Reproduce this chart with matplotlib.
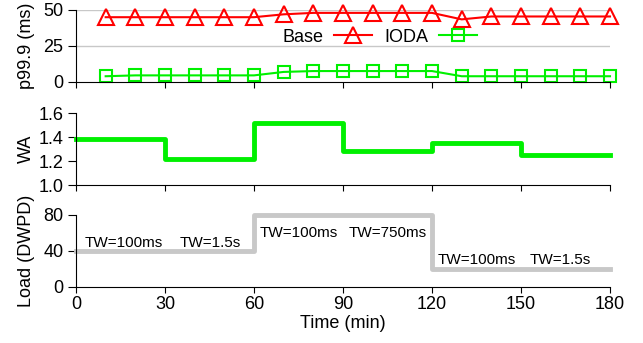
import matplotlib
matplotlib.use("Agg")
import matplotlib.pyplot as plt

plt.rcParams['font.family'] = ['Liberation Sans', 'DejaVu Sans']

# ── DATA ──────────────────────────────────────────────────────────────────────
t_pts   = [10, 20, 30, 40, 50, 60, 70, 80, 90, 100, 110, 120,
           130, 140, 150, 160, 170, 180]
base_p  = [45, 45, 45, 45, 45, 45, 47, 48, 48, 48, 48, 48,
           43.5, 45.5, 45.5, 45.5, 45.5, 45.5]
ioda_p  = [4, 4.6, 4.6, 4.6, 4.6, 4.6, 7, 7.6, 7.6, 7.6, 7.6, 7.6,
           4, 4, 4, 4, 4, 4]

wa_t    = [0, 30, 60, 90, 120, 150, 180]
wa_v    = [1.38, 1.22, 1.52, 1.28, 1.35, 1.25, 1.25]

load_t  = [0, 60, 120, 180]
load_v  = [40, 80, 20, 20]

tw_labels = ['TW=100ms', 'TW=1.5s', 'TW=100ms', 'TW=750ms', 'TW=100ms', 'TW=1.5s']
tw_x      = [3, 35, 62, 92, 122, 153]
tw_y      = [44.5, 44.5, 55.5, 55.5, 25, 25]

RED   = '#ff0000'
GREEN = '#00f000'
GRAY  = '#c8c8c8'
FS    = 13

# ── LAYOUT ────────────────────────────────────────────────────────────────────
fig = plt.figure(figsize=(6.43, 3.43), dpi=100)
L, W = 76 / 643, 534 / 643
ax1 = fig.add_axes([L, 1 - 82 / 343, W, 72 / 343])
ax2 = fig.add_axes([L, 1 - 185 / 343, W, 72 / 343])
ax3 = fig.add_axes([L, 1 - 286.5 / 343, W, 71.5 / 343])

for ax in (ax1, ax2, ax3):
    ax.set_xlim(0, 180)
    ax.set_xticks(range(0, 181, 30))
    for s in ('top', 'right'):
        ax.spines[s].set_visible(False)
    ax.tick_params(axis='y', direction='out', length=6, labelsize=FS, pad=3)
    ax.tick_params(axis='x', direction='out', length=4, labelsize=FS, pad=3)
    ax.yaxis.set_label_coords(-0.077, 0.5)

# ── TOP: p99.9 latency ────────────────────────────────────────────────────────
ax1.set_ylim(0, 50)
ax1.set_yticks([0, 25, 50])
for g in (25, 50):
    ax1.axhline(g, color='#c8c8c8', lw=1, zorder=0)
ax1.plot(t_pts, base_p, color=RED, lw=1.5, marker='^', ms=11, mfc='none',
         mew=1.5, label='Base', clip_on=False)
ax1.plot(t_pts, ioda_p, color=GREEN, lw=1.5, marker='s', ms=9, mfc='none',
         mew=1.5, label='IODA', clip_on=False)
ax1.set_xticklabels([])
ax1.set_ylabel('p99.9 (ms)', fontsize=FS)
ax1.legend(loc='center', bbox_to_anchor=(0.569, 0.625), ncol=2, frameon=False,
           markerfirst=False, fontsize=FS, handlelength=2.1, handletextpad=0.6,
           columnspacing=0.7, borderpad=0, borderaxespad=0)

# ── MIDDLE: write amplification ───────────────────────────────────────────────
ax2.step(wa_t, wa_v, where='post', color=GREEN, lw=3.5, clip_on=False)
ax2.set_ylim(1.0, 1.6)
ax2.set_yticks([1.0, 1.2, 1.4, 1.6])
ax2.set_yticklabels(['1.0', '1.2', '1.4', '1.6'])
ax2.set_xticklabels([])
ax2.set_ylabel('WA', fontsize=FS)

# ── BOTTOM: load ──────────────────────────────────────────────────────────────
ax3.step(load_t, load_v, where='post', color=GRAY, lw=3.5, clip_on=False)
ax3.set_ylim(0, 80)
ax3.set_yticks([0, 40, 80])
ax3.set_ylabel('Load (DWPD)', fontsize=FS)
ax3.set_xlabel('Time (min)', fontsize=FS, labelpad=1)
for lab, x, y in zip(tw_labels, tw_x, tw_y):
    ax3.text(x, y, lab, fontsize=11, ha='left', va='baseline')

fig.savefig('out.png', dpi=100)
